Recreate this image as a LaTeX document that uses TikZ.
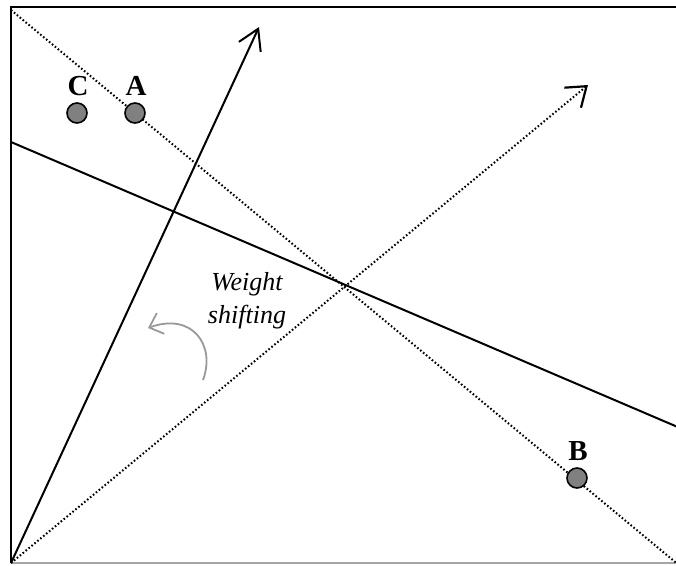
\documentclass[tikz,border=0pt]{standalone}
\usepackage{fontspec}
\setmainfont{Liberation Serif}
\usetikzlibrary{arrows.meta}
\tikzset{
  frameline/.style={line width=2pt,black},
  solidline/.style={line width=2pt,black},
  dotline/.style={line width=2pt,black,dash pattern=on 1.6pt off 2.2pt},
  vhead/.style={-{Straight Barb[length=20pt,width=24pt,line width=2pt]}},
  vheaddot/.style={-{Straight Barb[length=18pt,width=26pt,line width=2.2pt]}},
  pt/.style={circle,draw=black,line width=1.6pt,fill=black!50,minimum size=20pt,inner sep=0pt},
  lbl/.style={font=\fontsize{29}{32}\selectfont\bfseries,inner sep=0pt},
}
\begin{document}
\begin{tikzpicture}[x=1pt,y=-1pt]
\useasboundingbox (0,0) rectangle (676,565);
% frame
\coordinate (tl) at (11,7);
\coordinate (tr) at (680,7);
\coordinate (bl) at (11,563);
\coordinate (br) at (680,563);
\draw[frameline] (tr) -- (tl) -- (bl);
\draw[line width=1.5pt,black!35] (bl) -- (br);
% lines
\coordinate (s1) at (11,142);
\coordinate (s2) at (680,428);
\draw[solidline] (s1) -- (s2);
\coordinate (d1) at (11,10);
\coordinate (d2) at (680,566);
\draw[dotline] (d1) -- (d2);
\coordinate (o) at (11,563);
\coordinate (tipS) at (259,27);
\coordinate (tipD) at (588,85);
\draw[solidline,vhead] (o) -- (tipS);
\draw[dotline,vheaddot] (o) -- (tipD);
% points
\node[pt] (C) at (77,113) {};
\node[pt] (A) at (135,113) {};
\node[pt] (B) at (577,478) {};
\node[lbl,anchor=base] (Cl) at (78,95) {C};
\node[lbl,anchor=base] (Al) at (136,95) {A};
\node[lbl,anchor=base] (Bl) at (578,460) {B};
% label
\node[font=\fontsize{26}{33}\selectfont\itshape,align=center,inner sep=0pt] (ws) at (247,301) {Weight\\shifting};
% gray arrow
\coordinate (g1) at (203,380);
\coordinate (g2) at (148,328);
\draw[line width=1.8pt,black!40,-{Straight Barb[length=12pt,width=22pt,line width=1.8pt]}] (g1) .. controls (216,345) and (192,312) .. (g2);
\end{tikzpicture}
\end{document}
